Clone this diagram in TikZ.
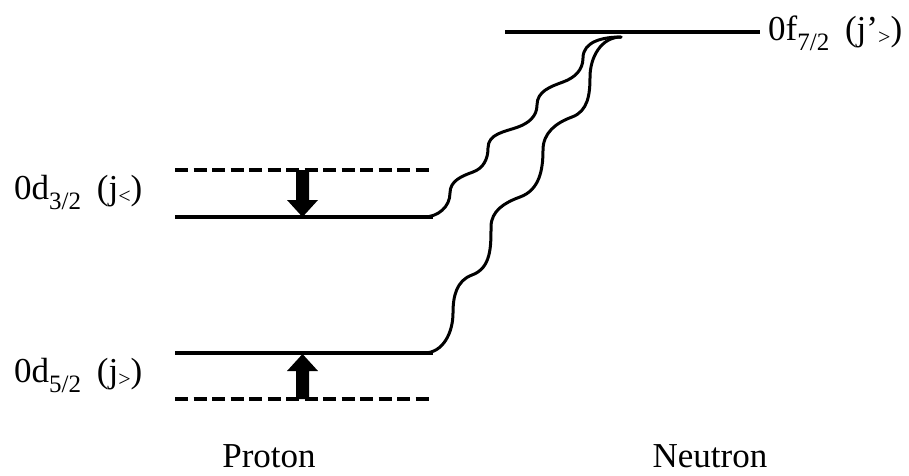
\documentclass[tikz,border=0pt]{standalone}
\usepackage{fontspec}
\setmainfont{Liberation Serif}
\newcommand\lvsub[1]{\raisebox{-0.3em}{\fontsize{25}{25}\selectfont #1}}
\newcommand\jsub[1]{\raisebox{-0.12em}{\fontsize{22}{22}\selectfont #1}}
\begin{document}
\begin{tikzpicture}[x=1pt,y=-1pt,
  level/.style={line width=3.4pt},
  dlevel/.style={line width=3.6pt, dash pattern=on 13pt off 5.5pt},
  wave/.style={line width=3pt, line cap=round},
  lbl/.style={font=\fontsize{35}{40}\selectfont, inner sep=0pt},
  blockarrow/.style={fill=black, draw=none}]
\useasboundingbox (0,0) rectangle (909,475);
% level end points
\coordinate (f7L) at (505,32);  \coordinate (f7R) at (760,32);
\coordinate (d3L) at (175,217); \coordinate (d3R) at (433,217);
\coordinate (d3dL) at (175,170); \coordinate (d3dR) at (433,170);
\coordinate (d5L) at (175,353); \coordinate (d5R) at (433,353);
\coordinate (d5dL) at (175,399); \coordinate (d5dR) at (433,399);
\coordinate (w1s) at (424,217); \coordinate (w2s) at (424,353);
\coordinate (top) at (621,37);
% levels
\draw[level] (f7L) -- (f7R);
\draw[level] (d3L) -- (d3R);
\draw[level] (d5L) -- (d5R);
\draw[dlevel] (d3dL) -- (d3dR);
\draw[dlevel] (d5dL) -- (d5dR);
% block arrows
\fill[blockarrow] (296,170) -- (309,170) -- (309,200) -- (318,200) -- (302.5,217) -- (287,200) -- (296,200) -- cycle;
\fill[blockarrow] (296,399) -- (309,399) -- (309,371) -- (318,371) -- (302.5,354) -- (287,371) -- (296,371) -- cycle;
% wavy connectors
\draw[wave] (w1s) to[out=0,in=-90] (450,193) to[out=90,in=200] (473,172)
  to[out=20,in=-90] (488,148) to[out=90,in=200] (518,127)
  to[out=20,in=-90] (537,105) to[out=90,in=200] (563,82)
  to[out=20,in=-90] (583,58) to[out=90,in=180] (top);
\draw[wave] (w2s) to[out=0,in=-90] (453,313) to[out=90,in=200] (472,275)
  to[out=20,in=-90] (491,227) to[out=90,in=200] (520,197)
  to[out=20,in=-90] (543,150) to[out=90,in=200] (572,117)
  to[out=20,in=-90] (590,77) to[out=90,in=180] (top);
% labels
\node[lbl, anchor=base west] (lf7) at (768,40) {0f\lvsub{7/2}\hspace{0.45em}(j’\jsub{>})};
\node[lbl, anchor=base west] (ld3) at (14,199) {0d\lvsub{3/2}\hspace{0.45em}(j\jsub{<})};
\node[lbl, anchor=base west] (ld5) at (14,382) {0d\lvsub{5/2}\hspace{0.45em}(j\jsub{>})};
\node[lbl, anchor=base] (proton) at (269,467) {Proton};
\node[lbl, anchor=base] (neutron) at (710,467) {Neutron};
\end{tikzpicture}
\end{document}
